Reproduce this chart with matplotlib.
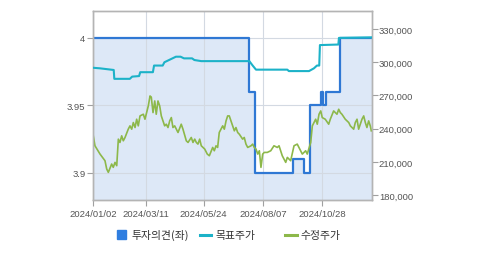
import matplotlib
matplotlib.use('Agg')
import matplotlib.pyplot as plt
from matplotlib.patches import Rectangle
from matplotlib.lines import Line2D

# x is trading-day index (0 = 2024/01/02)
tick_idx = [0, 46, 96, 148, 199]
tick_labels = ['2024/01/02', '2024/03/11', '2024/05/24', '2024/08/07', '2024/10/28']

# 투자의견 (left axis, step)
op_x = [0, 135, 141, 174, 183, 188, 198, 200, 202, 214, 242.2]
op_y = [4.0, 3.96, 3.90, 3.91, 3.90, 3.95, 3.96, 3.95, 3.96, 4.0, 4.0]

# 목표주가 (right axis)
tp_x = [0, 6, 18, 18.5, 32, 34, 40, 41, 52, 53, 60.5, 62, 67, 72, 76, 79, 86, 88, 94,
        99, 135.7, 138.6, 141.5, 168.7, 170, 187.5, 191.8, 194.4, 196.4, 197, 213, 213.5, 242.2]
tp_y = [295000, 294500, 293000, 285000, 285000, 287000, 287500, 291000, 291000, 297000,
        297000, 300000, 302500, 305000, 305000, 303500, 303500, 302000, 301000,
        301000, 301000, 297000, 293300, 293300, 292000, 292000, 294500, 297000,
        297000, 315500, 316000, 322000, 322500]

# 수정주가 (right axis)
px_x = [0, 1.7, 6.1, 10.4, 11.9, 13.3, 16.2, 17.6, 19.1, 20.6, 22, 23.4, 24.9, 26.3,
        27.8, 30.6, 32.1, 33.6, 35, 36.5, 37.9, 39.3, 40.8, 43.7, 45.1, 48, 49.5, 50.6,
        52.1, 53.6, 54.9, 56.4, 57.9, 59.3, 62.2, 63.6, 65.1, 66.6, 68, 69.4, 70.9, 73.8,
        76.6, 78.1, 81, 82.5, 85.3, 86.8, 88.3, 89.7, 91.1, 92.6, 94, 97, 99.2, 101,
        103.9, 105.3, 106.8, 108.2, 109.6, 111.1, 112.6, 114, 115.5, 116.9, 118.3,
        119.8, 121.3, 122.7, 124.1, 125.6, 127, 129.9, 131.3, 132.8, 134.3, 137.2,
        138.6, 140, 141.5, 143, 144.4, 145.8, 147.3, 148.7, 151.3, 154.3, 157.1, 160,
        161.5, 164.3, 167.3, 168.7, 171.6, 174.5, 177.3, 178.8, 181.7, 184.6, 186,
        189, 190.4, 191.8, 193.3, 194.7, 196.2, 197.7, 199, 201.6, 204.6, 206, 208.9,
        211.8, 213.3, 214.7, 216.1, 219, 222, 223.4, 226.3, 227.7, 229.2, 230.6,
        233.5, 235, 236.4, 237.8, 239.3, 240.7, 241.6]
px_y = [235000, 224500, 217000, 211000, 203500, 200500, 208000, 205000, 209500, 206500,
        230500, 227500, 233500, 229000, 232000, 239500, 242500, 239500, 245500, 241000,
        248500, 242500, 251500, 253000, 248500, 260500, 269500, 268500, 254500, 265000,
        253000, 265000, 260500, 251500, 242500, 244000, 241000, 247000, 250000, 241000,
        242500, 236500, 244000, 239500, 229000, 227500, 232000, 227500, 230500, 227500,
        226000, 230500, 224500, 221500, 217000, 215500, 223000, 220000, 224500, 223000,
        236500, 239500, 242500, 239500, 247000, 251500, 251500, 247000, 242500, 238000,
        241000, 236500, 235000, 230500, 232000, 226000, 223000, 224500, 226000, 223000,
        221500, 217000, 220000, 205000, 217000, 218500, 218500, 220000, 224500, 223000,
        224500, 215500, 209500, 214000, 211000, 224500, 226000, 223000, 217000, 220000,
        217000, 227500, 242500, 245500, 248500, 244000, 253000, 256000, 250000, 248500,
        244000, 248500, 256000, 253000, 257500, 254500, 253000, 248500, 245500, 242500,
        239500, 245500, 248500, 239500, 248500, 251500, 245500, 241000, 247000, 242500,
        238000]

c_blue = '#2f78d4'
c_cyan = '#1cb2c8'
c_green = '#8db84a'
c_fill = '#dde8f7'
c_text = '#555555'

plt.rcParams['font.family'] = ['Liberation Sans', 'DejaVu Sans']

fig = plt.figure(figsize=(4.79, 2.55), dpi=100)
ax = fig.add_axes([93/479, 54/255, 279/479, 189/255])
ax2 = ax.twinx()

ax.fill_between(op_x, op_y, 3.88, step='post', color=c_fill, lw=0, zorder=0.3)
ax.plot(op_x, op_y, drawstyle='steps-post', color=c_blue, lw=1.6, zorder=2)
ax2.plot(tp_x, tp_y, color=c_cyan, lw=1.5, zorder=3)
ax2.plot(px_x, px_y, color=c_green, lw=1.2, zorder=2)

ax.set_xlim(0, 242.2)
ax.set_ylim(3.88, 4.02)
ax2.set_ylim(175500, 346300)

ax.set_xticks(tick_idx)
ax.set_xticklabels(tick_labels)
ax.set_yticks([3.9, 3.95, 4.0])
ax.set_yticklabels(['3.9', '3.95', '4'])
ax2.set_yticks([180000, 210000, 240000, 270000, 300000, 330000])
ax2.set_yticklabels([f'{v:,}' for v in [180000, 210000, 240000, 270000, 300000, 330000]])

ax.set_axisbelow('line')
ax.grid(True, color='#d3d9e2', lw=0.8)

for a in (ax, ax2):
    for s in a.spines.values():
        s.set_color('#b4b4b4')
        s.set_linewidth(1.0)
    a.tick_params(colors='#a0a0a0', labelcolor=c_text, labelsize=6.8, length=4, width=0.8)
ax.tick_params(axis='y', pad=1.5)
ax.tick_params(axis='x', pad=2.5)
ax2.tick_params(axis='y', pad=1)

# legend
kr = ['Noto Sans CJK KR', 'DejaVu Sans']
ly = 1 - 235.5/255
fig.patches.append(Rectangle((116.7/479, 1 - 240/255), 9/479, 9/255,
                             transform=fig.transFigure, color='#2f7ee0'))
fig.text(131/479, ly, '투자의견(좌)', family=kr, fontsize=7.8, color='#333333', va='center')
fig.lines.append(Line2D([200/479, 211/479], [ly, ly], transform=fig.transFigure,
                        color=c_cyan, lw=2.2))
fig.text(215/479, ly, '목표주가', family=kr, fontsize=7.8, color='#333333', va='center')
fig.lines.append(Line2D([285/479, 296.5/479], [ly, ly], transform=fig.transFigure,
                        color=c_green, lw=2.2))
fig.text(300/479, ly, '수정주가', family=kr, fontsize=7.8, color='#333333', va='center')

fig.savefig('out.png', dpi=100)
